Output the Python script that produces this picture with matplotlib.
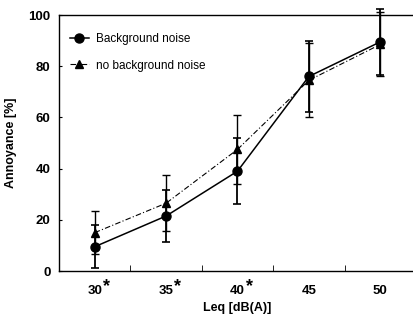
import matplotlib
matplotlib.use("Agg")
import matplotlib.pyplot as plt

levels = ["30", "35", "40", "45", "50"]
significant = [True, True, True, False, False]

bg_mean = [9.5, 21.5, 39.0, 76.0, 89.5]
bg_err = [8.5, 10.0, 13.0, 14.0, 13.0]

nobg_mean = [15.0, 26.5, 47.5, 74.5, 88.5]
nobg_err = [8.5, 11.0, 13.5, 14.5, 12.5]

plt.rcParams["font.family"] = ["Liberation Sans", "DejaVu Sans"]

fig = plt.figure(figsize=(4.13, 3.2), dpi=100)
ax = fig.add_axes([0.143, 0.153, 0.864, 0.800])

x = list(range(len(levels)))

bg = ax.errorbar(x, bg_mean, yerr=bg_err, color="black", marker="o", ms=6.5,
                 lw=1.1, elinewidth=1.3, capsize=3, capthick=1.2,
                 label="Background noise", clip_on=False, zorder=3)
nobg = ax.errorbar(x, nobg_mean, yerr=nobg_err, color="black", marker="^", ms=6,
                   lw=0.8, dashes=(5, 2, 1, 2), elinewidth=1.0, capsize=3,
                   capthick=1.0, label="no background noise", clip_on=False,
                   zorder=3)

ax.set_xlim(-0.5, len(levels) - 0.5)
ax.set_ylim(0, 100)
ax.set_yticks(range(0, 101, 20))
ax.tick_params(axis="y", direction="in", length=2, labelsize=9.5, pad=6)
for lab in ax.get_yticklabels():
    lab.set_fontweight("bold")

ax.set_xticks(x)
ax.set_xticklabels(levels, fontsize=9.5, fontweight="bold")
ax.tick_params(axis="x", which="major", length=0, pad=10)
ax.set_xticks([i + 0.5 for i in x[:-1]], minor=True)
ax.tick_params(axis="x", which="minor", direction="in", length=4)

# significance stars next to the tick labels (raised, like a superscript)
for i, s in zip(x, significant):
    if s:
        ax.annotate("*", xy=(i, 0), xycoords=("data", "axes fraction"),
                    xytext=(6, -11), textcoords="offset points",
                    fontsize=13, fontweight="bold", ha="left", va="center")

ax.spines["right"].set_visible(False)
for s in ["left", "bottom", "top"]:
    ax.spines[s].set_linewidth(1.0)

ax.set_xlabel("Leq [dB(A)]", fontsize=9, fontweight="bold", labelpad=4)
ax.set_ylabel("Annoyance [%]", fontsize=9, fontweight="bold", labelpad=8)

ax.legend([bg[0], nobg[0]], ["Background noise", "no background noise"],
          loc="upper left", frameon=False, fontsize=8.5, handlelength=1.6,
          handletextpad=0.6, labelspacing=1.2, bbox_to_anchor=(0.0, 0.97))

fig.savefig("out.png", dpi=100)
